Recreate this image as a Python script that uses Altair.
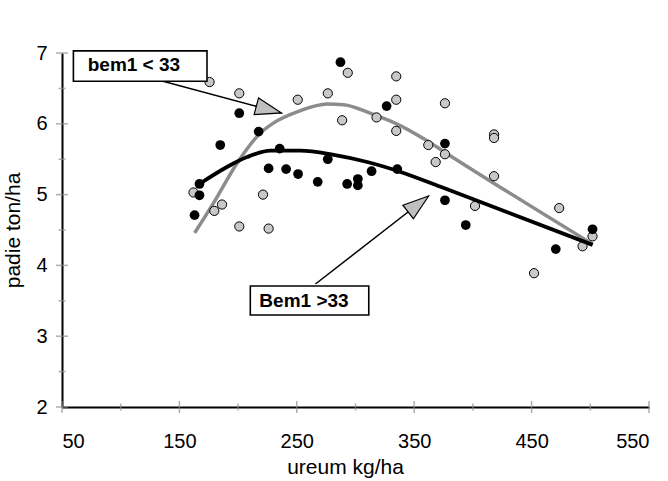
import altair as alt
import pandas as pd
import math

# ---- data ----
gray_x = [175.7, 201, 250.8, 162, 221.2, 186.3, 179.7, 201, 226, 293.4, 334.7, 276.4, 334.7, 376.2,
          288.6, 317.9, 334.7, 362, 376.2, 368.3, 418, 418, 418, 401.8, 473.5, 501.9, 493.4, 452.1]
gray_y = [6.59, 6.43, 6.34, 5.03, 5.00, 4.86, 4.77, 4.55, 4.52, 6.72, 6.67, 6.43, 6.34, 6.29,
          6.05, 6.09, 5.90, 5.70, 5.57, 5.46, 5.85, 5.80, 5.26, 4.84, 4.81, 4.41, 4.27, 3.89]

black_x = [201, 217.5, 184.8, 235.4, 226, 240.9, 251.1, 167.1, 167.1, 162.9, 287.2, 326.5,
           376.2, 276.4, 267.8, 313.7, 335.6, 302, 292.9, 302, 376.2, 393.9, 501.9, 470.6]
black_y = [6.15, 5.89, 5.70, 5.65, 5.37, 5.36, 5.29, 5.15, 4.99, 4.71, 6.87, 6.25,
           5.72, 5.50, 5.18, 5.33, 5.36, 5.22, 5.15, 5.13, 4.92, 4.57, 4.51, 4.23]

gray_line_x = [163, 179, 199, 219, 230, 252, 276, 290, 314, 335, 361, 375, 502]
gray_line_y = [4.46, 4.88, 5.44, 5.87, 6.01, 6.18, 6.28, 6.27, 6.14, 6.00, 5.76, 5.61, 4.30]

black_line_x = [167, 190.5, 207.6, 227.5, 253, 281.5, 310, 338.4, 372.5, 502]
black_line_y = [5.15, 5.39, 5.53, 5.62, 5.62, 5.56, 5.46, 5.32, 5.11, 4.29]

x_ticks = [50, 150, 250, 350, 450, 550]
x_minor = [100, 200, 300, 400, 500]
y_ticks = [2, 3, 4, 5, 6, 7]
y_minor = [2.5, 3.5, 4.5, 5.5, 6.5]

labels = ["bem1 < 33", "Bem1 >33"]
label_x = [71.9, 218.1]
label_y = [6.83, 3.50]
box_x1 = [59.7, 210.4]
box_x2 = [173.5, 311.3]
box_y1 = [7.03, 3.71]
box_y2 = [6.60, 3.30]
arrow_x1 = [119.4, 265.9]
arrow_y1 = [6.675, 3.737]
arrow_x2 = [236.9, 362.3]
arrow_y2 = [6.153, 4.98]

W, H = 587, 354
XD, YD = [50, 550], [2, 7]

xs = alt.Scale(domain=XD, nice=False, zero=False)
ys = alt.Scale(domain=YD, nice=False, zero=False)

gray_df = pd.DataFrame({"x": gray_x, "y": gray_y})
black_df = pd.DataFrame({"x": black_x, "y": black_y})
gl_df = pd.DataFrame({"x": gray_line_x, "y": gray_line_y})
bl_df = pd.DataFrame({"x": black_line_x, "y": black_line_y})

# screen angle of each arrow (clockwise degrees)
angs = []
for a, b, c, d in zip(arrow_x1, arrow_y1, arrow_x2, arrow_y2):
    dx = (c - a) * W / (XD[1] - XD[0])
    dy = -(d - b) * H / (YD[1] - YD[0])
    angs.append(math.degrees(math.atan2(dy, dx)) % 360)

ann_df = pd.DataFrame({
    "label": labels, "lx": label_x, "ly": label_y,
    "bx1": box_x1, "bx2": box_x2, "by1": box_y1, "by2": box_y2,
    "ax1": arrow_x1, "ay1": arrow_y1, "ax2": arrow_x2, "ay2": arrow_y2,
    "ang": angs,
})

base_x = alt.X("x:Q", scale=xs, axis=alt.Axis(
    values=x_ticks, format="d", title="ureum kg/ha", ticks=False, grid=False,
    domainColor="black", domainWidth=2, labelFontSize=20, labelPadding=24,
    titleFontSize=21, titleFontWeight="normal", titlePadding=5, labelColor="black",
    titleColor="black", titleX=283))
base_y = alt.Y("y:Q", scale=ys, axis=alt.Axis(
    values=y_ticks, format="d", title="padie ton/ha", ticks=False, grid=False,
    domainColor="black", domainWidth=2, labelFontSize=20, labelPadding=15,
    titleFontSize=21, titleFontWeight="normal", titlePadding=12, labelColor="black",
    titleColor="black"))

gray_line = alt.Chart(gl_df).mark_line(color="#8c8c8c", strokeWidth=3.5, interpolate="monotone").encode(
    x=base_x, y=base_y)
gray_pts = alt.Chart(gray_df).mark_point(filled=True, fill="#c8c8c8", stroke="black", strokeWidth=1,
                                         size=85, opacity=1, shape="circle").encode(x="x:Q", y="y:Q")
black_pts = alt.Chart(black_df).mark_point(filled=True, color="black", size=95, opacity=1,
                                           shape="circle").encode(x="x:Q", y="y:Q")
black_line = alt.Chart(bl_df).mark_line(color="black", strokeWidth=3.8, interpolate="monotone").encode(
    x="x:Q", y="y:Q")

xt_major = alt.Chart(pd.DataFrame({"x": x_ticks, "y": [2] * len(x_ticks)})).mark_tick(
    orient="vertical", size=12, thickness=1.5, color="#8c8c8c").encode(x="x:Q", y="y:Q")
xt_minor = alt.Chart(pd.DataFrame({"x": x_minor, "y": [2] * len(x_minor)})).mark_tick(
    orient="vertical", size=7, thickness=1.5, color="#8c8c8c").encode(x="x:Q", y="y:Q")
yt_major = alt.Chart(pd.DataFrame({"x": [50] * len(y_ticks), "y": y_ticks})).mark_tick(
    orient="horizontal", size=12, thickness=1.5, color="#8c8c8c").encode(x="x:Q", y="y:Q")
yt_minor = alt.Chart(pd.DataFrame({"x": [50] * len(y_minor), "y": y_minor})).mark_tick(
    orient="horizontal", size=7, thickness=1.5, color="#8c8c8c").encode(x="x:Q", y="y:Q")

arrows = alt.Chart(ann_df).mark_rule(color="black", strokeWidth=1.5).encode(
    x="ax1:Q", y="ay1:Q", x2="ax2:Q", y2="ay2:Q")
heads = alt.Chart(ann_df).mark_point(
    shape="M0,0 L-1,-0.33 L-1,0.33 Z", size=2700, filled=True, fill="#c0c0c0",
    stroke="black", strokeWidth=1.2, opacity=1).encode(
    x="ax2:Q", y="ay2:Q", angle=alt.Angle("ang:Q", scale=None))
boxes = alt.Chart(ann_df).mark_rect(fill="white", stroke="black", strokeWidth=1.6).encode(
    x="bx1:Q", x2="bx2:Q", y="by1:Q", y2="by2:Q")
texts = alt.Chart(ann_df).mark_text(align="left", baseline="middle", fontSize=19, fontWeight="bold",
                                    color="black").encode(x="lx:Q", y="ly:Q", text="label:N")

chart = alt.layer(
    gray_line, gray_pts, black_pts, black_line,
    arrows, heads, boxes, texts,
    xt_major, xt_minor, yt_major, yt_minor,
).properties(
    width=W, height=H,
    autosize=alt.AutoSizeParams(type="none"),
    padding={"left": 62, "top": 53, "right": 19, "bottom": 74},
    background="white",
).configure(font="Liberation Sans").configure_view(stroke=None)

chart.save("out.html", embed_options={"renderer": "svg", "actions": False})
